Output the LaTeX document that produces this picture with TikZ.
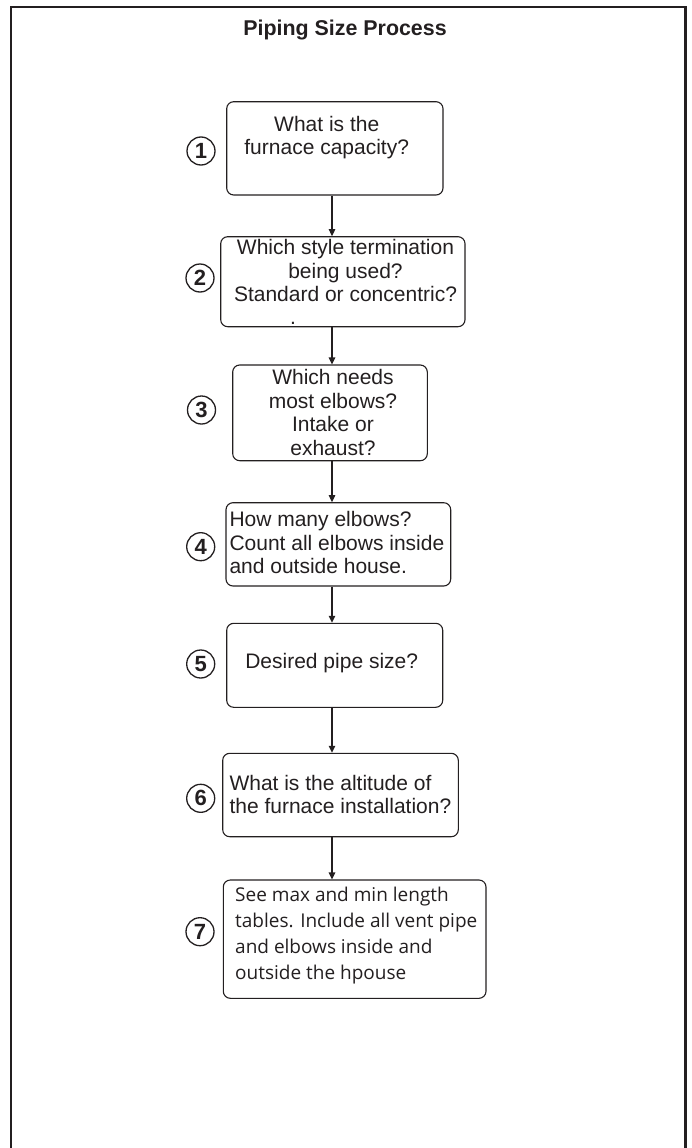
\documentclass[tikz,border=0pt]{standalone}
\usepackage{fontspec}
\setmainfont{Liberation Sans}
\newfontfamily\myriad{Open Sans}
\usetikzlibrary{arrows.meta}
\definecolor{ink}{HTML}{231F20}
\begin{document}
\begin{tikzpicture}[x=1pt,y=-1pt,
  stepbox/.style={draw=ink, line width=1.1pt, rounded corners=7pt, inner sep=0pt},
  num/.style={circle, draw=ink, line width=1.3pt, minimum size=28pt, inner sep=0pt, text=ink, font=\fontsize{22}{22}\selectfont\bfseries},
  txt/.style={font=\fontsize{21}{23.5}\selectfont, text=ink, inner sep=0pt},
  txtb/.style={font=\myriad\fontsize{19}{26}\selectfont, text=ink, inner sep=0pt},
  arr/.style={draw=ink, line width=1.1pt, -{Triangle[width=6.5pt,length=7pt]}}]
\useasboundingbox (0,0) rectangle (691,1148);
\draw[ink, line width=2.5pt] (11,1148) -- (11,7) -- (685.5,7) -- (685.5,1148);
\node[font=\fontsize{21.4}{24}\selectfont\bfseries, text=ink] (title) at (345,30) {Piping Size Process};
% boxes
\node[stepbox, minimum width=216.3pt, minimum height=93.3pt] (b1) at (334.85,148.35) {};
\node[stepbox, minimum width=244.3pt, minimum height=90pt] (b2) at (342.85,281.7) {};
\node[stepbox, minimum width=194.6pt, minimum height=95.7pt] (b3) at (330,412.85) {};
\node[stepbox, minimum width=224.7pt, minimum height=83.3pt] (b4) at (338.35,544.35) {};
\node[stepbox, minimum width=216pt, minimum height=84pt] (b5) at (334.7,665.3) {};
\node[stepbox, minimum width=235.6pt, minimum height=83.4pt] (b6) at (340.5,795) {};
\node[stepbox, minimum width=262.7pt, minimum height=118.3pt] (b7) at (354.65,939.15) {};
% texts
\node[txt, align=center] (t1) at (326.7,137.5) {What is the\\furnace capacity?};
\node[txt, align=center] (t2) at (345.5,270.5) {Which style termination\\being used?\\Standard or concentric?};
\node[txt] (t2dot) at (293,323) {.};
\node[txt, align=center] (t3) at (333,412.3) {Which needs\\most elbows?\\Intake or\\exhaust?};
\node[txt, align=left, anchor=west] (t4) at (229.3,542.5) {How many elbows?\\Count all elbows inside\\and outside house.};
\node[txt] (t5) at (331.7,663.3) {Desired pipe size?};
\node[txt, align=left, anchor=west] (t6) at (229.3,794.3) {What is the altitude of\\the furnace installation?};
\node[txtb, align=left, anchor=west] (t7) at (235,935.8) {See max and min length\\tables. Include all vent pipe\\and elbows inside and\\outside the hpouse};
% numbers
\node[num] (n1) at (201,151) {1};
\node[num] (n2) at (200,278) {2};
\node[num] (n3) at (201.5,410) {3};
\node[num] (n4) at (200.7,546.7) {4};
\node[num] (n5) at (200.7,664) {5};
\node[num] (n6) at (200.7,798.3) {6};
\node[num] (n7) at (200,931.7) {7};
% arrows
\coordinate (ax) at (332,0);
\draw[arr] (b1.south -| ax) -- (b2.north -| ax);
\draw[arr] (b2.south -| ax) -- (b3.north -| ax);
\draw[arr] (b3.south -| ax) -- (b4.north -| ax);
\draw[arr] (b4.south -| ax) -- (b5.north -| ax);
\draw[arr] (b5.south -| ax) -- (b6.north -| ax);
\draw[arr] (b6.south -| ax) -- (b7.north -| ax);
\end{tikzpicture}
\end{document}
